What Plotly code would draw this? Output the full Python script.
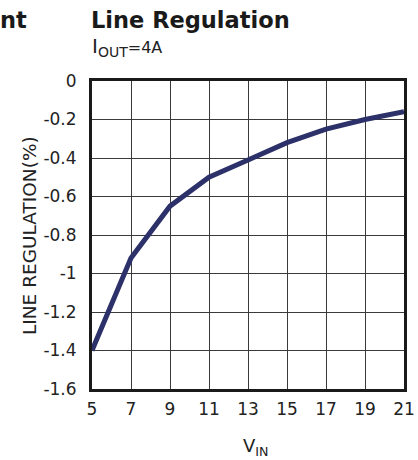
import plotly.graph_objects as go

vin = [5, 7, 9, 11, 13, 15, 17, 19, 21]
line_reg = [-1.40, -0.92, -0.65, -0.50, -0.41, -0.32, -0.25, -0.20, -0.16]
x_ticks = [5, 7, 9, 11, 13, 15, 17, 19, 21]
y_ticks = [0, -0.2, -0.4, -0.6, -0.8, -1, -1.2, -1.4, -1.6]
y_tick_text = ["0", "-0.2", "-0.4", "-0.6", "-0.8", "-1", "-1.2", "-1.4", "-1.6"]

FONT = "DejaVu Sans, Verdana, sans-serif"
TXT = "#222222"

W, H = 418, 460
ML, MR, MT, MB = 92, 14, 81, 71
PW = W - ML - MR
PH = H - MT - MB


def paper(px, py):
    """pixel coords -> paper coords"""
    return (px - ML) / PW, (H - MB - py) / PH


fig = go.Figure()
fig.add_trace(go.Scatter(
    x=vin, y=line_reg, mode="lines",
    line=dict(color="#2d3169", width=5),
    showlegend=False, hoverinfo="skip",
))

fig.update_layout(
    width=W, height=H,
    margin=dict(l=ML, r=MR, t=MT, b=MB, autoexpand=False),
    paper_bgcolor="white", plot_bgcolor="white",
    font=dict(family=FONT, color=TXT, size=17),
    hovermode=False,
    xaxis=dict(
        range=[5, 21], tickvals=x_ticks, ticktext=[str(v) for v in x_ticks],
        showgrid=True, gridcolor="#3a3a3a", gridwidth=1,
        showline=True, linecolor="#1a1a1a", linewidth=3, mirror=True,
        zeroline=False, ticks="outside", ticklen=3, tickcolor="rgba(0,0,0,0)",
        tickfont=dict(family=FONT, size=17, color=TXT),
    ),
    yaxis=dict(
        range=[-1.6, 0], tickvals=y_ticks, ticktext=y_tick_text,
        showgrid=True, gridcolor="#3a3a3a", gridwidth=1,
        showline=True, linecolor="#1a1a1a", linewidth=3, mirror=True,
        zeroline=False, ticks="outside", ticklen=9, tickcolor="rgba(0,0,0,0)",
        tickfont=dict(family=FONT, size=17, color=TXT),
    ),
)

# Titles and labels
x, y = paper(ML - 3, 5)
fig.add_annotation(text="<b>Line Regulation</b>", x=x, y=y, xref="paper", yref="paper",
                   xanchor="left", yanchor="top", showarrow=False,
                   font=dict(family=FONT, size=22.5, color="#1a1a1a"))
x, y = paper(-2, 5)
fig.add_annotation(text="<b>nt</b>", x=x, y=y, xref="paper", yref="paper",
                   xanchor="left", yanchor="top", showarrow=False,
                   font=dict(family=FONT, size=22.5, color="#1a1a1a"))
x, y = paper(ML - 2, 32)
fig.add_annotation(text="I<sub>OUT</sub><span style='font-size:16px'>=4A</span>",
                   x=x, y=y, xref="paper", yref="paper",
                   xanchor="left", yanchor="top", showarrow=False,
                   font=dict(family=FONT, size=20, color=TXT))
x, y = paper(29, (MT + H - MB) / 2 + 1)
fig.add_annotation(text="LINE REGULATION(%)", x=x, y=y, xref="paper", yref="paper",
                   xanchor="center", yanchor="middle", textangle=-90, showarrow=False,
                   font=dict(family=FONT, size=18.5, color=TXT))
x, y = paper(255, 433)
fig.add_annotation(text="V<sub>IN</sub>", x=x, y=y, xref="paper", yref="paper",
                   xanchor="center", yanchor="top", showarrow=False,
                   font=dict(family=FONT, size=18, color=TXT))

fig.write_html(
    "out.html",
    config={"displayModeBar": False, "staticPlot": True},
    post_script="document.body.style.margin='0';document.body.style.overflow='hidden';"
                "document.documentElement.style.overflow='hidden';",
)
